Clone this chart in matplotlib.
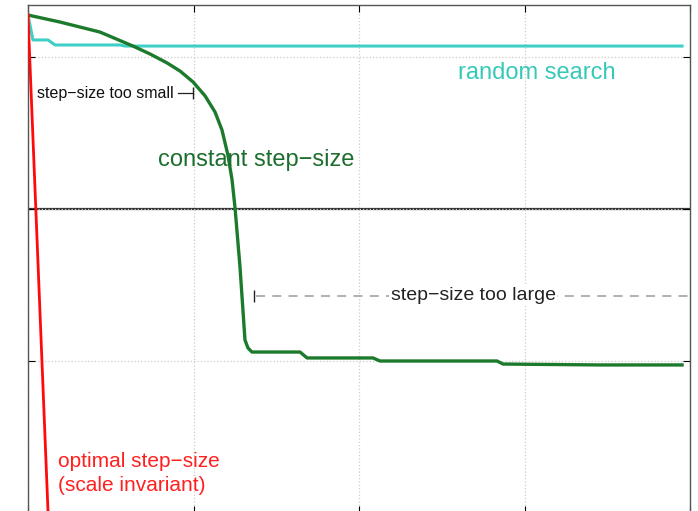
import matplotlib
matplotlib.use('Agg')
import matplotlib.pyplot as plt

plt.rcParams['font.family'] = ['Liberation Sans', 'DejaVu Sans']

# x in thousands of evaluations, y in log10 units
const_x = [0.0, 0.193, 0.435, 0.634, 0.737, 0.840, 0.918, 0.997, 1.070, 1.130, 1.172,
           1.208, 1.233, 1.251, 1.281, 1.311, 1.329, 1.353, 1.644, 1.686, 2.085, 2.127,
           2.834, 2.870, 3.456, 3.952]
const_y = [1.276, 1.230, 1.164, 1.072, 1.020, 0.961, 0.908, 0.836, 0.744, 0.638, 0.520,
           0.355, 0.191, 0.007, -0.382, -0.862, -0.914, -0.941, -0.941, -0.980, -0.980,
           -1.000, -1.000, -1.020, -1.026, -1.026]

rand_x = [0.0, 0.030, 0.121, 0.163, 0.556, 0.586, 3.952]
rand_y = [1.276, 1.112, 1.112, 1.079, 1.079, 1.072, 1.072]

opt_x = [0.0, 0.125]
opt_y = [1.276, -2.1]

fig = plt.figure(figsize=(6.98, 5.11), dpi=100)
ax = fig.add_axes([28/698, -2/511, 662/698, 508/511])

ax.axhline(0, color='#333333', lw=1.6, zorder=1)
ax.plot(rand_x, rand_y, color='#3fcfc6', lw=2.2, zorder=3)
ax.plot(const_x, const_y, color='#1c7a2c', lw=2.4, zorder=3, solid_joinstyle='round')
ax.plot(opt_x, opt_y, color='#ff0a0a', lw=2.0, zorder=3)

# step-size too small marker
ax.plot([0.905, 0.997], [0.76, 0.76], color='#222222', lw=0.9)
ax.plot([0.997], [0.76], marker='|', ms=9, mew=1.0, color='#222222')
ax.text(0.054, 0.76, 'step\u2212size too small', fontsize=11.5, va='center', ha='left', color='#111111')

# step-size too large marker
ax.plot([1.375, 4.0], [-0.572, -0.572], color='#aaaaaa', lw=1.3, ls=(0, (5, 4)))
ax.plot([1.366], [-0.572], marker='|', ms=9, mew=1.0, color='#222222')
ax.text(2.689, -0.572, 'step\u2212size too large', fontsize=14, va='center', ha='center',
        color='#222222', bbox=dict(facecolor='white', edgecolor='none', pad=1))

ax.text(1.378, 0.322, 'constant step\u2212size', fontsize=17, va='center', ha='center', color='#1c6e2e')
ax.text(3.076, 0.895, 'random search', fontsize=17, va='center', ha='center', color='#36c9b8')
ax.text(0.181, -1.74, 'optimal step\u2212size\n(scale invariant)', fontsize=15, va='center',
        ha='left', color='#ff2020', linespacing=1.3)

ax.set_xlim(0, 4)
ax.set_ylim(-2, 1.342)
ax.set_xticks([0, 1, 2, 3, 4])
ax.set_yticks([-2, -1, 0, 1])
ax.grid(True, color='#cccccc', ls=':', lw=0.9)
ax.tick_params(direction='in', length=5, top=True, right=True, labelleft=False, labelbottom=False)
for s in ax.spines.values():
    s.set_color('#555555')
    s.set_linewidth(1.0)

plt.savefig('out.png', dpi=100)
